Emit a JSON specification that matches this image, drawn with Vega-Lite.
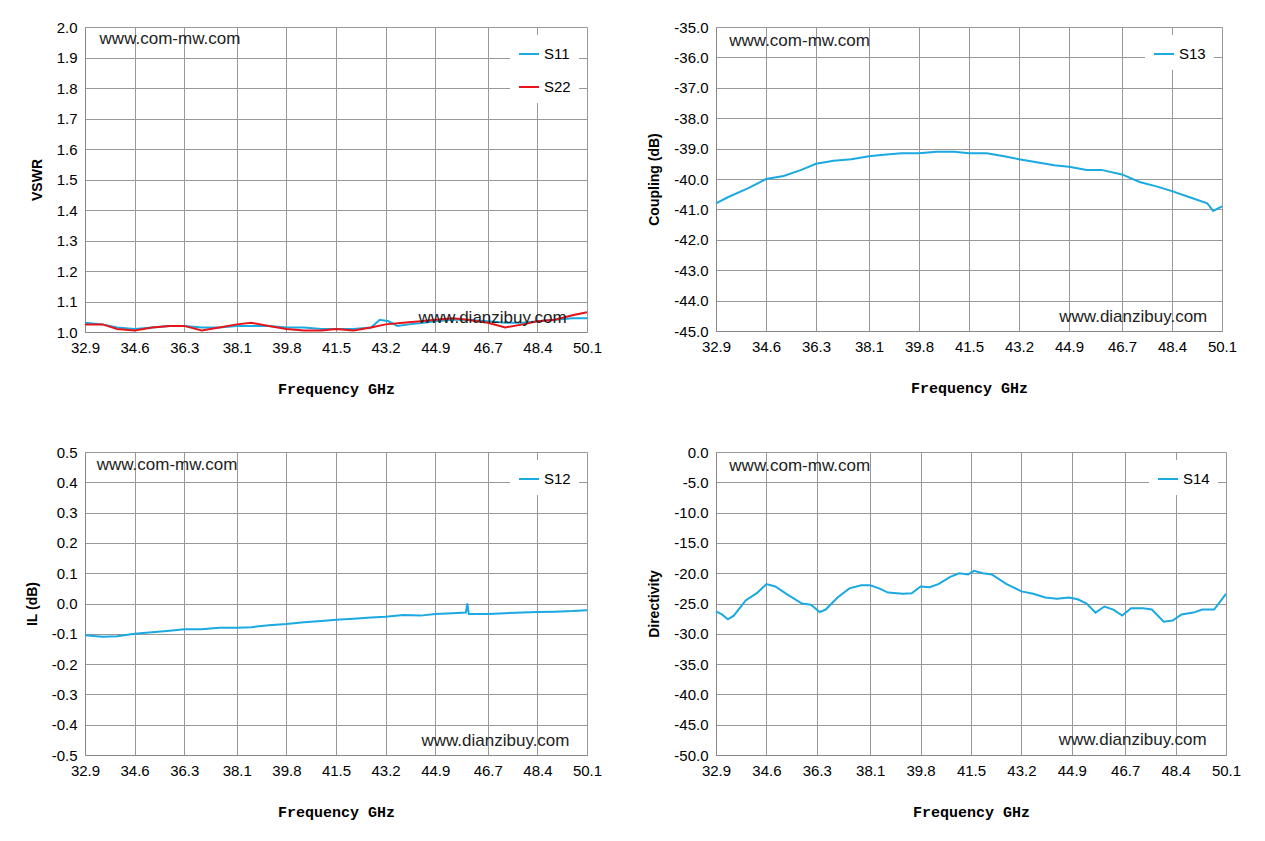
{
  "$schema": "https://vega.github.io/schema/vega-lite/v6.json",
  "padding": {"left": 25, "top": 20, "right": 10, "bottom": 5},
  "background": "white",
  "spacing": 49,
  "config": {
    "view": {"stroke": null},
    "font": "Liberation Sans",
    "axis": {"labelFont": "Liberation Sans", "labelFontSize": 15, "labelColor": "#000", "domainColor": "#888", "tickColor": "#888", "gridColor": "#999", "gridWidth": 1, "titleColor": "#000", "labelOverlap": false, "labelFlush": false, "labelBound": false, "ticks": false, "labelPadding": 8, "labelExpr": "replace(format(datum.value, '.1f'), '\u2212', '-')"},
    "axisX": {"titleFont": "Liberation Mono", "titleFontSize": 15, "titleFontWeight": "bold", "titlePadding": 26},
    "axisY": {"titleFont": "Liberation Sans", "titleFontSize": 14, "titleFontWeight": "bold", "titlePadding": 12},
    "legend": {"orient": "top-right", "fillColor": "white", "symbolType": "stroke", "symbolStrokeWidth": 2, "symbolSize": 400, "labelFontSize": 15, "labelFont": "Liberation Sans", "padding": 8, "offset": 8, "title": null, "rowPadding": 14},
    "text": {"fontSize": 17, "font": "Liberation Sans", "color": "#222"}
  },
  "datasets": {
    "vswr": [
      {"f":32.9,"v":1.03,"s":"S11"},{"f":33.5,"v":1.025,"s":"S11"},{"f":34,"v":1.015,"s":"S11"},{"f":34.6,"v":1.01,"s":"S11"},{"f":35.2,"v":1.015,"s":"S11"},{"f":35.8,"v":1.02,"s":"S11"},{"f":36.3,"v":1.02,"s":"S11"},{"f":36.9,"v":1.015,"s":"S11"},{"f":37.5,"v":1.015,"s":"S11"},{"f":38.1,"v":1.02,"s":"S11"},{"f":38.6,"v":1.02,"s":"S11"},{"f":39.2,"v":1.02,"s":"S11"},{"f":39.8,"v":1.015,"s":"S11"},{"f":40.4,"v":1.015,"s":"S11"},{"f":41,"v":1.01,"s":"S11"},{"f":41.5,"v":1.01,"s":"S11"},{"f":42.1,"v":1.01,"s":"S11"},{"f":42.7,"v":1.015,"s":"S11"},{"f":43.0,"v":1.04,"s":"S11"},{"f":43.3,"v":1.035,"s":"S11"},{"f":43.6,"v":1.02,"s":"S11"},{"f":44,"v":1.025,"s":"S11"},{"f":44.5,"v":1.03,"s":"S11"},{"f":44.9,"v":1.035,"s":"S11"},{"f":45.5,"v":1.04,"s":"S11"},{"f":46,"v":1.04,"s":"S11"},{"f":46.7,"v":1.035,"s":"S11"},{"f":47.3,"v":1.03,"s":"S11"},{"f":47.9,"v":1.03,"s":"S11"},{"f":48.4,"v":1.035,"s":"S11"},{"f":49,"v":1.04,"s":"S11"},{"f":49.6,"v":1.045,"s":"S11"},{"f":50.1,"v":1.045,"s":"S11"},
      {"f":32.9,"v":1.025,"s":"S22"},{"f":33.5,"v":1.025,"s":"S22"},{"f":34,"v":1.01,"s":"S22"},{"f":34.6,"v":1.005,"s":"S22"},{"f":35.2,"v":1.015,"s":"S22"},{"f":35.8,"v":1.02,"s":"S22"},{"f":36.3,"v":1.02,"s":"S22"},{"f":36.9,"v":1.005,"s":"S22"},{"f":37.5,"v":1.015,"s":"S22"},{"f":38.1,"v":1.025,"s":"S22"},{"f":38.6,"v":1.03,"s":"S22"},{"f":39.2,"v":1.02,"s":"S22"},{"f":39.8,"v":1.01,"s":"S22"},{"f":40.4,"v":1.005,"s":"S22"},{"f":41,"v":1.005,"s":"S22"},{"f":41.5,"v":1.01,"s":"S22"},{"f":42.1,"v":1.005,"s":"S22"},{"f":42.7,"v":1.015,"s":"S22"},{"f":43.2,"v":1.025,"s":"S22"},{"f":43.8,"v":1.03,"s":"S22"},{"f":44.4,"v":1.035,"s":"S22"},{"f":44.9,"v":1.04,"s":"S22"},{"f":45.5,"v":1.045,"s":"S22"},{"f":46,"v":1.04,"s":"S22"},{"f":46.7,"v":1.03,"s":"S22"},{"f":47.3,"v":1.015,"s":"S22"},{"f":47.9,"v":1.025,"s":"S22"},{"f":48.4,"v":1.035,"s":"S22"},{"f":49,"v":1.04,"s":"S22"},{"f":49.6,"v":1.055,"s":"S22"},{"f":50.1,"v":1.065,"s":"S22"}
    ],
    "coup": [
      {"f":32.9,"v":-40.8},{"f":33.3,"v":-40.6},{"f":34,"v":-40.3},{"f":34.6,"v":-40.0},{"f":35.2,"v":-39.9},{"f":35.8,"v":-39.7},{"f":36.3,"v":-39.5},{"f":36.9,"v":-39.4},{"f":37.5,"v":-39.35},{"f":38.1,"v":-39.25},{"f":38.6,"v":-39.2},{"f":39.2,"v":-39.15},{"f":39.8,"v":-39.15},{"f":40.4,"v":-39.1},{"f":41,"v":-39.1},{"f":41.5,"v":-39.15},{"f":42.1,"v":-39.15},{"f":42.7,"v":-39.25},{"f":43.2,"v":-39.35},{"f":43.8,"v":-39.45},{"f":44.4,"v":-39.55},{"f":44.9,"v":-39.6},{"f":45.5,"v":-39.7},{"f":46,"v":-39.7},{"f":46.7,"v":-39.85},{"f":47.3,"v":-40.1},{"f":47.9,"v":-40.25},{"f":48.4,"v":-40.4},{"f":49,"v":-40.6},{"f":49.6,"v":-40.8},{"f":49.8,"v":-41.05},{"f":50.1,"v":-40.9}
    ],
    "il": [
      {"f":32.9,"v":-0.105},{"f":33.5,"v":-0.11},{"f":34,"v":-0.108},{"f":34.6,"v":-0.1},{"f":35.2,"v":-0.095},{"f":35.8,"v":-0.09},{"f":36.3,"v":-0.085},{"f":36.9,"v":-0.085},{"f":37.5,"v":-0.08},{"f":38.1,"v":-0.08},{"f":38.6,"v":-0.078},{"f":39.2,"v":-0.072},{"f":39.8,"v":-0.068},{"f":40.4,"v":-0.062},{"f":41,"v":-0.058},{"f":41.5,"v":-0.054},{"f":42.1,"v":-0.05},{"f":42.7,"v":-0.046},{"f":43.2,"v":-0.044},{"f":43.8,"v":-0.038},{"f":44.4,"v":-0.04},{"f":44.9,"v":-0.035},{"f":45.5,"v":-0.032},{"f":45.95,"v":-0.03},{"f":46.0,"v":0.0},{"f":46.05,"v":-0.035},{"f":46.7,"v":-0.035},{"f":47.3,"v":-0.032},{"f":47.9,"v":-0.03},{"f":48.4,"v":-0.028},{"f":49,"v":-0.027},{"f":49.6,"v":-0.025},{"f":50.1,"v":-0.022}
    ],
    "dir": [
      {"f":32.9,"v":-26.3},{"f":33.1,"v":-26.8},{"f":33.3,"v":-27.6},{"f":33.5,"v":-27.0},{"f":33.9,"v":-24.5},{"f":34.3,"v":-23.2},{"f":34.6,"v":-21.8},{"f":34.9,"v":-22.2},{"f":35.3,"v":-23.5},{"f":35.8,"v":-25.0},{"f":36.1,"v":-25.2},{"f":36.4,"v":-26.4},{"f":36.6,"v":-26.0},{"f":37.0,"v":-24.0},{"f":37.4,"v":-22.5},{"f":37.8,"v":-22.0},{"f":38.1,"v":-22.0},{"f":38.4,"v":-22.5},{"f":38.7,"v":-23.2},{"f":39.2,"v":-23.4},{"f":39.5,"v":-23.3},{"f":39.8,"v":-22.2},{"f":40.1,"v":-22.3},{"f":40.4,"v":-21.8},{"f":40.8,"v":-20.6},{"f":41.1,"v":-20.0},{"f":41.4,"v":-20.2},{"f":41.6,"v":-19.6},{"f":41.9,"v":-20.0},{"f":42.2,"v":-20.2},{"f":42.7,"v":-21.8},{"f":43.2,"v":-23.0},{"f":43.6,"v":-23.4},{"f":44.0,"v":-24.0},{"f":44.4,"v":-24.2},{"f":44.8,"v":-24.0},{"f":45.1,"v":-24.3},{"f":45.4,"v":-25.0},{"f":45.7,"v":-26.5},{"f":46.0,"v":-25.5},{"f":46.3,"v":-26.0},{"f":46.6,"v":-27.0},{"f":46.9,"v":-25.8},{"f":47.3,"v":-25.8},{"f":47.6,"v":-26.0},{"f":48.0,"v":-28.0},{"f":48.3,"v":-27.8},{"f":48.6,"v":-26.8},{"f":49.0,"v":-26.5},{"f":49.3,"v":-26.0},{"f":49.7,"v":-26.0},{"f":50.1,"v":-23.4}
    ]
  },
  "vconcat": [
    {"hconcat": [
      {
        "width": 502, "height": 305,
        "encoding": {
          "x": {"field": "f", "type": "quantitative", "title": "Frequency GHz", "scale": {"domain": [32.9, 50.1], "nice": false, "zero": false}, "axis": {"values": [32.9,34.6,36.3,38.1,39.8,41.5,43.2,44.9,46.7,48.4,50.1]}},
          "y": {"field": "v", "type": "quantitative", "title": "VSWR", "scale": {"domain": [1.0, 2.0], "nice": false, "zero": false}, "axis": {"values": [1.0,1.1,1.2,1.3,1.4,1.5,1.6,1.7,1.8,1.9,2.0]}}
        },
        "layer": [
          {"data": {"name": "vswr"}, "mark": {"type": "line", "strokeWidth": 2},
           "encoding": {"color": {"field": "s", "type": "nominal", "scale": {"domain": ["S11", "S22"], "range": ["#1aa9e0", "#e8141a"]}}}},
          {"data": {"values": [{"f": 33.4, "v": 1.96, "t": "www.com-mw.com", "a": "left"}, {"f": 49.4, "v": 1.045, "t": "www.dianzibuy.com", "a": "right"}]},
           "mark": {"type": "text", "align": {"expr": "datum.a"}},
           "encoding": {"text": {"field": "t"}}}
        ]
      },
      {
        "width": 506, "height": 304,
        "encoding": {
          "x": {"field": "f", "type": "quantitative", "title": "Frequency GHz", "scale": {"domain": [32.9, 50.1], "nice": false, "zero": false}, "axis": {"values": [32.9,34.6,36.3,38.1,39.8,41.5,43.2,44.9,46.7,48.4,50.1]}},
          "y": {"field": "v", "type": "quantitative", "title": "Coupling (dB)", "scale": {"domain": [-45, -35], "nice": false, "zero": false}, "axis": {"values": [-45,-44,-43,-42,-41,-40,-39,-38,-37,-36,-35]}}
        },
        "layer": [
          {"data": {"name": "coup"}, "mark": {"type": "line", "strokeWidth": 2},
           "encoding": {"color": {"datum": "S13", "type": "nominal", "scale": {"domain": ["S13"], "range": ["#1aa9e0"]}}}},
          {"data": {"values": [{"f": 33.35, "v": -35.45, "t": "www.com-mw.com", "a": "left"}, {"f": 49.6, "v": -44.55, "t": "www.dianzibuy.com", "a": "right"}]},
           "mark": {"type": "text", "align": {"expr": "datum.a"}},
           "encoding": {"text": {"field": "t"}}}
        ]
      }
    ], "spacing": 45, "resolve": {"scale": {"color": "independent"}}},
    {"hconcat": [
      {
        "width": 502, "height": 303,
        "encoding": {
          "x": {"field": "f", "type": "quantitative", "title": "Frequency GHz", "scale": {"domain": [32.9, 50.1], "nice": false, "zero": false}, "axis": {"values": [32.9,34.6,36.3,38.1,39.8,41.5,43.2,44.9,46.7,48.4,50.1]}},
          "y": {"field": "v", "type": "quantitative", "title": "IL (dB)", "scale": {"domain": [-0.5, 0.5], "nice": false, "zero": false}, "axis": {"values": [-0.5,-0.4,-0.3,-0.2,-0.1,0,0.1,0.2,0.3,0.4,0.5]}}
        },
        "layer": [
          {"data": {"name": "il"}, "mark": {"type": "line", "strokeWidth": 2},
           "encoding": {"color": {"datum": "S12", "type": "nominal", "scale": {"domain": ["S12"], "range": ["#1aa9e0"]}}}},
          {"data": {"values": [{"f": 33.3, "v": 0.456, "t": "www.com-mw.com", "a": "left"}, {"f": 49.5, "v": -0.453, "t": "www.dianzibuy.com", "a": "right"}]},
           "mark": {"type": "text", "align": {"expr": "datum.a"}},
           "encoding": {"text": {"field": "t"}}}
        ]
      },
      {
        "width": 510, "height": 303,
        "encoding": {
          "x": {"field": "f", "type": "quantitative", "title": "Frequency GHz", "scale": {"domain": [32.9, 50.1], "nice": false, "zero": false}, "axis": {"values": [32.9,34.6,36.3,38.1,39.8,41.5,43.2,44.9,46.7,48.4,50.1]}},
          "y": {"field": "v", "type": "quantitative", "title": "Directivity", "scale": {"domain": [-50, 0], "nice": false, "zero": false}, "axis": {"values": [-50,-45,-40,-35,-30,-25,-20,-15,-10,-5,0]}}
        },
        "layer": [
          {"data": {"name": "dir"}, "mark": {"type": "line", "strokeWidth": 2},
           "encoding": {"color": {"datum": "S14", "type": "nominal", "scale": {"domain": ["S14"], "range": ["#1aa9e0"]}}}},
          {"data": {"values": [{"f": 33.35, "v": -2.3, "t": "www.com-mw.com", "a": "left"}, {"f": 49.45, "v": -47.6, "t": "www.dianzibuy.com", "a": "right"}]},
           "mark": {"type": "text", "align": {"expr": "datum.a"}},
           "encoding": {"text": {"field": "t"}}}
        ]
      }
    ], "spacing": 45, "resolve": {"scale": {"color": "independent"}}}
  ],
  "resolve": {"scale": {"color": "independent"}}
}
